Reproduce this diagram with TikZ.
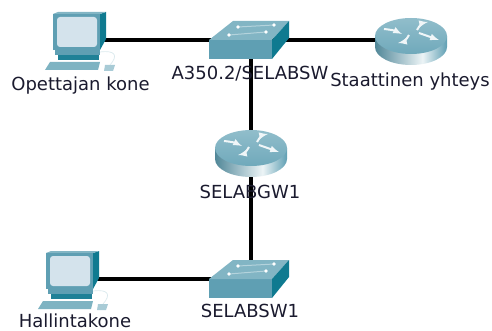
\documentclass[tikz,border=0pt]{standalone}
\usepackage{fontspec}
\setmainfont{DejaVu Sans}
\definecolor{tealmid}{HTML}{5F9FB3}
\definecolor{teallite}{HTML}{82B5C4}
\definecolor{tealdark}{HTML}{0F7A90}
\definecolor{screenblue}{HTML}{D4E3EC}
\definecolor{labelink}{HTML}{1A1A2E}
\pgfdeclarehorizontalshading{routerside}{100bp}{
  color(0bp)=(tealmid!85!black);
  color(25bp)=(tealmid!85!black);
  color(58bp)=(white!85!teallite);
  color(75bp)=(tealmid);
  color(100bp)=(tealdark)}
\pgfdeclareverticalshading{routertop}{100bp}{
  color(0bp)=(tealmid);
  color(100bp)=(teallite!75!white)}
\tikzset{
  devpoint/.style={inner sep=0pt, minimum size=1pt},
  devlabel/.style={font=\fontsize{18}{20}\selectfont, text=labelink, inner sep=0pt, anchor=base},
  wire/.style={line width=4.5pt, black},
  routerarrow/.style={line width=2pt, white!88!teallite, -latex},
  switchicon/.pic={
    \fill[tealmid] (-42,0) -- (21,0) -- (21,-19) -- (-42,-19) -- cycle;
    \fill[teallite] (-42,0) -- (-18,19) -- (38,19) -- (21,0) -- cycle;
    \fill[tealdark] (21,0) -- (38,19) -- (38,2) -- (21,-19) -- cycle;
    \draw[white!40!teallite, line width=1pt] (-13,13) -- (23,15) (-22,5) -- (15,8);
    \fill[white] (-13,13) circle (1.8) (23,15) circle (1.8) (-22,5) circle (1.8) (15,8) circle (1.8);
  },
  routericon/.pic={
    \shade[shading=routerside] (-36,0) -- (-36,-11) arc[start angle=180, end angle=360, x radius=36pt, y radius=18pt] -- (36,0) -- cycle;
    \shade[shading=routertop] (0,0) ellipse[x radius=36pt, y radius=18pt];
    \draw[routerarrow] (-27,7) to[bend left=10] (-9,2);
    \draw[routerarrow] (6,6) to[bend left=25] (17,14);
    \draw[routerarrow] (8,3) -- (28,-4);
    \draw[routerarrow] (-2,1) to[bend left=25] (-13,-7);
  },
  pcicon/.pic={
    \fill[tealdark] (20,26) -- (26,28) -- (26,1) -- (20,-10) -- cycle;
    \fill[teallite] (-27,26) -- (-22,28) -- (26,28) -- (20,26) -- cycle;
    \fill[tealmid] (-27,26) rectangle (20,-10);
    \fill[screenblue, rounded corners=3pt] (-23,23) rectangle (17,-7);
    \fill[tealmid] (-25,-10) rectangle (20,-15);
    \fill[tealdark!80!tealmid] (-22,-15) rectangle (19,-20);
    \fill[teallite!90!tealmid] (-30,-22) -- (20,-22) -- (18,-30) -- (-35,-30) -- cycle;
    \fill[teallite!70!white] (25,-25) -- (35,-25) -- (33,-31) -- (24,-31) -- cycle;
    \draw[white!70!teallite, line width=.7pt] (20,-12) .. controls (36,-10) and (38,-16) .. (30,-25);
  },
}
\begin{document}
\begin{tikzpicture}[x=1pt, y=1pt]
\useasboundingbox (0,0) rectangle (492,-331);
\node[devpoint] (teacher) at (80,-40){};
\node[devpoint] (swA) at (251,-40){};
\node[devpoint] (static) at (411,-36){};
\node[devpoint] (gw) at (251,-148){};
\node[devpoint] (sw1) at (251,-279){};
\node[devpoint] (admin) at (73,-279){};
\draw[wire](teacher) -- (swA);
\draw[wire](swA.center) -- (static.center |- swA.center);
\draw[wire](swA) -- (gw);
\draw[wire](gw) -- (sw1);
\draw[wire](admin) -- (sw1);
\pic at (teacher) {pcicon};
\pic at (swA) {switchicon};
\pic at (static) {routericon};
\pic at (gw) {routericon};
\pic at (sw1) {switchicon};
\pic at (admin) {pcicon};
\node[devlabel] (teacherlabel) at (80.5,-91){Opettajan kone};
\node[devlabel] (swAlabel) at (250,-79.5){A350.2/SELABSW};
\node[devlabel] (staticlabel) at (410,-87){Staattinen yhteys};
\node[devlabel] (gwlabel) at (250,-198){SELABGW1};
\node[devlabel] (sw1label) at (250,-317){SELABSW1};
\node[devlabel] (adminlabel) at (75,-327){Hallintakone};
\end{tikzpicture}
\end{document}
